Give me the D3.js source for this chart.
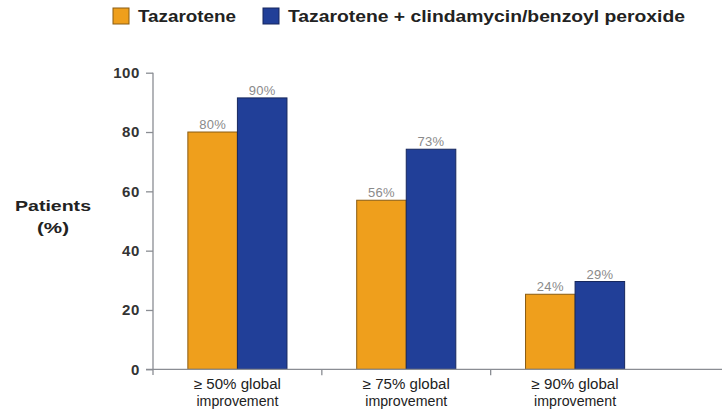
<!DOCTYPE html>
<html lang="en">
<head>
  <meta charset="utf-8">
  <title>Global improvement</title>
  <script src="https://cdnjs.cloudflare.com/ajax/libs/d3/7.8.5/d3.min.js"></script>
  <style>
    body { margin: 0; background: #fff; }
    svg { display: block; font-family: "Liberation Sans", Arial, sans-serif; }
  </style>
</head>
<body>
<svg id="chart"></svg>
<script>
var categories = ["\u2265 50% global|improvement", "\u2265 75% global|improvement", "\u2265 90% global|improvement"];
var seriesNames = ["Tazarotene", "Tazarotene + clindamycin/benzoyl peroxide"];
var tazarotene = [80, 57, 25.3];
var combo = [91.5, 74.2, 29.6];
var tazLabels = ["80%", "56%", "24%"];
var comboLabels = ["90%", "73%", "29%"];
var yTicks = [0, 20, 40, 60, 80, 100];

var w = 722, h = 413;
var colors = ["#EF9F1C", "#213F98"];
var strokes = ["#8a5c12", "#16275e"];

var svg = d3.select("#chart").attr("width", w).attr("height", h);

var x0 = d3.scaleBand().domain(d3.range(categories.length))
  .range([153, 659.5]).paddingInner(0.413).paddingOuter(0.2065);
var x1 = d3.scaleBand().domain([0, 1]).range([0, x0.bandwidth()]);
var y = d3.scaleLinear().domain([0, 100]).range([369.3, 72.7]);

var rows = categories.map(function(c, i) {
  return [
    { s: 0, v: tazarotene[i], l: tazLabels[i] },
    { s: 1, v: combo[i], l: comboLabels[i] }
  ];
});

// bars
var g = svg.selectAll("g.grp").data(rows).enter().append("g")
  .attr("class", "grp")
  .attr("transform", function(d, i) { return "translate(" + x0(i) + ",0)"; });

g.selectAll("rect").data(function(d) { return d; }).enter().append("rect")
  .attr("x", function(d) { return x1(d.s); })
  .attr("y", function(d) { return y(d.v); })
  .attr("width", x1.bandwidth())
  .attr("height", function(d) { return y(0) - y(d.v); })
  .attr("fill", function(d) { return colors[d.s]; })
  .attr("stroke", function(d) { return strokes[d.s]; })
  .attr("stroke-width", 1);

g.selectAll("text").data(function(d) { return d; }).enter().append("text")
  .attr("x", function(d) { return x1(d.s) + x1.bandwidth() / 2; })
  .attr("y", function(d) { return y(d.v) - 3; })
  .attr("text-anchor", "middle")
  .attr("fill", "#8a8a8a")
  .style("font-size", "13px")
  .style("letter-spacing", "0.3px")
  .text(function(d) { return d.l; });

// y axis
var yAxis = d3.axisLeft(y).tickValues(yTicks).tickSize(7).tickPadding(6);
var ya = svg.append("g").attr("transform", "translate(153,0)").call(yAxis);
ya.select(".domain").remove();
ya.selectAll("line").attr("stroke", "#8a8d93").attr("stroke-width", 1.3);
ya.selectAll("text").attr("fill", "#333").style("font-size", "15px")
  .style("font-weight", "bold").style("letter-spacing", "0.6px");
svg.append("line").attr("x1", 153).attr("x2", 153).attr("y1", y(100)).attr("y2", 375)
  .attr("stroke", "#8a8d93").attr("stroke-width", 1.3);

// x axis
svg.append("line").attr("x1", 146).attr("x2", w).attr("y1", y(0)).attr("y2", y(0))
  .attr("stroke", "#8a8d93").attr("stroke-width", 1.3);
var sepTicks = [1, 2].map(function(i) { return x0(i) - x0.step() * x0.paddingInner() / 2; });
svg.selectAll("line.sep").data(sepTicks).enter().append("line")
  .attr("class", "sep")
  .attr("x1", function(d) { return d; }).attr("x2", function(d) { return d; })
  .attr("y1", y(0)).attr("y2", y(0) + 6)
  .attr("stroke", "#8a8d93").attr("stroke-width", 1.3);

var cl = svg.selectAll("text.cat").data(categories).enter().append("text")
  .attr("class", "cat")
  .attr("text-anchor", "middle")
  .attr("fill", "#222")
  .style("font-size", "14px");
cl.each(function(d, i) {
  var parts = d.split("|");
  var t = d3.select(this);
  parts.forEach(function(p, k) {
    t.append("tspan")
      .attr("x", x0(i) + x0.bandwidth() / 2)
      .attr("y", 389 + k * 17)
      .attr("textLength", k === 0 ? 87 : 82)
      .attr("lengthAdjust", "spacingAndGlyphs")
      .text(p);
  });
});

// y title
svg.append("text").attr("x", 53).attr("y", 211).attr("text-anchor", "middle")
  .attr("fill", "#222").style("font-size", "15px").style("font-weight", "bold")
  .attr("textLength", 76).attr("lengthAdjust", "spacingAndGlyphs")
  .text("Patients");
svg.append("text").attr("x", 53).attr("y", 233).attr("text-anchor", "middle")
  .attr("fill", "#222").style("font-size", "15px").style("font-weight", "bold")
  .attr("textLength", 32).attr("lengthAdjust", "spacingAndGlyphs")
  .text("(%)");

// legend
var legX = [113, 263];
var legLen = [98, 397];
var leg = svg.selectAll("g.leg").data(seriesNames).enter().append("g")
  .attr("class", "leg")
  .attr("transform", function(d, i) { return "translate(" + legX[i] + ",8)"; });
leg.append("rect").attr("width", 16).attr("height", 16)
  .attr("fill", function(d, i) { return colors[i]; })
  .attr("stroke", function(d, i) { return strokes[i]; });
leg.append("text").attr("x", 25).attr("y", 14)
  .attr("fill", "#222").style("font-size", "16px").style("font-weight", "bold")
  .attr("textLength", function(d, i) { return legLen[i]; })
  .attr("lengthAdjust", "spacingAndGlyphs")
  .text(function(d) { return d; });
</script>
</body>
</html>
